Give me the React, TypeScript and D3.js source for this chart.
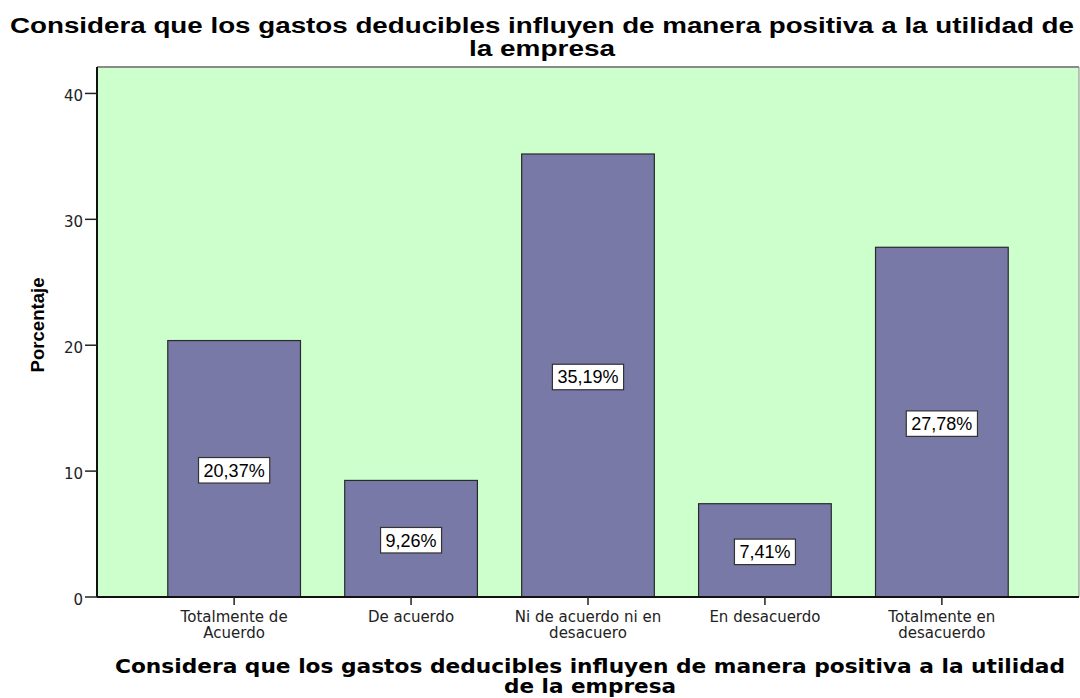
import React from "react";
import * as d3 from "d3";

const categories: string[][] = [
  ["Totalmente de", "Acuerdo"],
  ["De acuerdo"],
  ["Ni de acuerdo ni en", "desacuero"],
  ["En desacuerdo"],
  ["Totalmente en", "desacuerdo"],
];
const values: number[] = [20.37, 9.26, 35.19, 7.41, 27.78];
const valueLabels: string[] = ["20,37%", "9,26%", "35,19%", "7,41%", "27,78%"];
const yTicks: number[] = [0, 10, 20, 30, 40];
const titleLines: string[] = [
  "Considera que los gastos deducibles influyen de manera positiva a la utilidad de",
  "la empresa",
];
const xTitleLines: string[] = [
  "Considera que los gastos deducibles influyen de manera positiva a la utilidad",
  "de la empresa",
];
const yTitle = "Porcentaje";

const W = 1080;
const H = 698;
const plot = { left: 97, right: 1079, top: 67, bottom: 597 };
const yMax = 42.1;

export default function App() {
  const x = d3
    .scaleBand<number>()
    .domain(values.map((_, i) => i))
    .range([plot.left, plot.right])
    .paddingInner(0.25)
    .paddingOuter(0.4);
  const y = d3.scaleLinear().domain([0, yMax]).range([plot.bottom, plot.top]);

  return (
    <svg
      width={W}
      height={H}
      style={{ position: "absolute", left: 0, top: 0, background: "#fff" }}
    >
      {/* Title */}
      <text
        x={10}
        y={33}
        fontFamily="Liberation Sans, Arial, sans-serif"
        fontWeight="bold"
        fontSize={22}
        textLength={1064}
        lengthAdjust="spacingAndGlyphs"
        fill="#000"
      >
        {titleLines[0]}
      </text>
      <text
        x={542}
        y={56}
        textAnchor="middle"
        fontFamily="Liberation Sans, Arial, sans-serif"
        fontWeight="bold"
        fontSize={22}
        textLength={146}
        lengthAdjust="spacingAndGlyphs"
        fill="#000"
      >
        {titleLines[1]}
      </text>

      {/* Plot background */}
      <rect
        x={plot.left}
        y={plot.top}
        width={plot.right - plot.left}
        height={plot.bottom - plot.top}
        fill="#CCFFCC"
      />
      <line x1={plot.left} x2={plot.right} y1={plot.top} y2={plot.top} stroke="#8a8a8a" strokeWidth={2} />
      <line x1={plot.right} x2={plot.right} y1={plot.top} y2={plot.bottom} stroke="#8a8a8a" strokeWidth={1} />

      {/* Bars */}
      {values.map((v, i) => (
        <rect
          key={i}
          x={x(i)!}
          y={y(v)}
          width={x.bandwidth()}
          height={y(0) - y(v)}
          fill="#7979A7"
          stroke="#2a2a2a"
          strokeWidth={1.2}
        />
      ))}

      {/* Value labels */}
      {values.map((v, i) => {
        const cx = x(i)! + x.bandwidth() / 2;
        const cy = y(v / 2) + 1.5;
        const w = valueLabels[i].length * 10.2 + 10;
        const h = 25.5;
        return (
          <g key={i}>
            <rect
              x={cx - w / 2}
              y={cy - h / 2}
              width={w}
              height={h}
              fill="#fff"
              stroke="#333"
              strokeWidth={1.2}
            />
            <text
              x={cx}
              y={cy + 6.5}
              textAnchor="middle"
              fontFamily="Liberation Sans, Arial, sans-serif"
              fontSize={18}
              fill="#000"
            >
              {valueLabels[i]}
            </text>
          </g>
        );
      })}

      {/* Axes */}
      <line x1={plot.left} x2={plot.left} y1={plot.top} y2={plot.bottom} stroke="#111" strokeWidth={2} />
      <line x1={plot.left} x2={plot.right} y1={plot.bottom} y2={plot.bottom} stroke="#111" strokeWidth={2} />

      {yTicks.map((t) => (
        <g key={t}>
          <line x1={85} x2={plot.left} y1={y(t)} y2={y(t)} stroke="#222" strokeWidth={1.5} />
          <text
            x={83}
            y={y(t) + 7.5}
            textAnchor="end"
            fontFamily="DejaVu Sans, sans-serif"
            fontSize={15}
            fill="#222"
          >
            {t}
          </text>
        </g>
      ))}

      {categories.map((lines, i) => {
        const cx = x(i)! + x.bandwidth() / 2;
        return (
          <g key={i}>
            <line x1={cx} x2={cx} y1={plot.bottom} y2={plot.bottom + 8} stroke="#222" strokeWidth={1.5} />
            {lines.map((l, j) => (
              <text
                key={j}
                x={cx}
                y={622 + j * 15.5}
                textAnchor="middle"
                fontFamily="DejaVu Sans, sans-serif"
                fontSize={15}
                fill="#222"
              >
                {l}
              </text>
            ))}
          </g>
        );
      })}

      {/* X title */}
      <text
        x={590}
        y={673}
        textAnchor="middle"
        fontFamily="DejaVu Sans, sans-serif"
        fontWeight="bold"
        fontSize={20}
        textLength={950}
        lengthAdjust="spacingAndGlyphs"
        fill="#000"
      >
        {xTitleLines[0]}
      </text>
      <text
        x={590}
        y={693}
        textAnchor="middle"
        fontFamily="DejaVu Sans, sans-serif"
        fontWeight="bold"
        fontSize={20}
        textLength={172}
        lengthAdjust="spacingAndGlyphs"
        fill="#000"
      >
        {xTitleLines[1]}
      </text>

      {/* Y title */}
      <text
        transform={`translate(44, 325) rotate(-90)`}
        textAnchor="middle"
        fontFamily="Liberation Sans, Arial, sans-serif"
        fontWeight="bold"
        fontSize={19}
        textLength={95}
        lengthAdjust="spacingAndGlyphs"
        fill="#000"
      >
        {yTitle}
      </text>
    </svg>
  );
}
